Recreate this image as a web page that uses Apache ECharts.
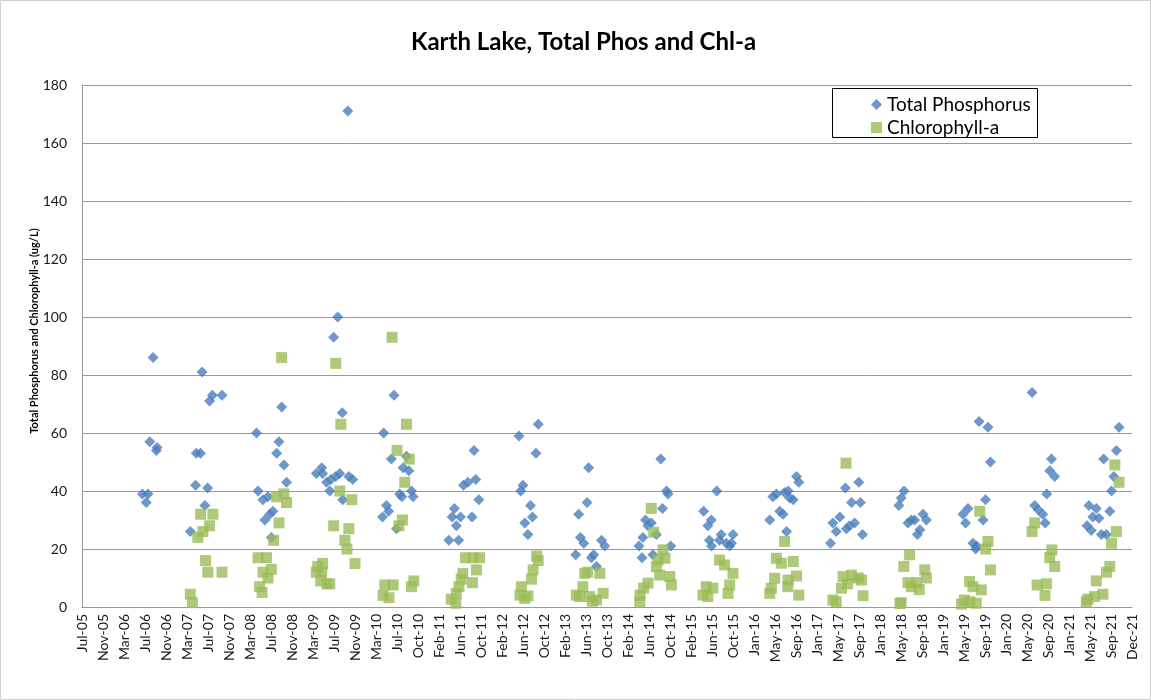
<!DOCTYPE html>
<html>
<head>
<meta charset="utf-8">
<script src="https://cdn.jsdelivr.net/npm/echarts/dist/echarts.min.js"></script>
<style>
  html, body { margin: 0; padding: 0; background: #fff; }
  #chart { width: 1151px; height: 700px; }
</style>
</head>
<body>
<div id="chart"></div>
<script>
// ---------------- data ----------------
const TITLE = 'Karth Lake, Total Phos and Chl-a';
const Y_TITLE = 'Total Phosphorus and Chlorophyll-a (ug/L)';
const SERIES_NAMES = ['Total Phosphorus', 'Chlorophyll-a'];
const MONTHS = ['Jan','Feb','Mar','Apr','May','Jun','Jul','Aug','Sep','Oct','Nov','Dec'];
const AXIS_START = '2005-07-27';   // first tick label (Jul-05)
const TICK_DAYS = 120;             // Excel major unit
const AXIS_SPAN_DAYS = 6000;       // last tick label (Dec-21)
const Y_TICKS = [0, 20, 40, 60, 80, 100, 120, 140, 160, 180];

const tpDates = [
 '2006-07-07','2006-07-29','2006-08-08','2006-08-18','2006-09-06','2006-09-25','2006-09-29',
 '2007-04-07','2007-05-07','2007-05-11','2007-06-04','2007-06-13','2007-06-29','2007-07-15','2007-07-26','2007-08-11','2007-10-05',
 '2008-04-19','2008-04-28','2008-05-26','2008-06-06','2008-06-24','2008-07-04','2008-07-13','2008-07-22','2008-08-12','2008-08-25','2008-09-10','2008-09-23','2008-10-08',
 '2009-03-27','2009-04-27','2009-05-02','2009-05-25','2009-06-12','2009-06-18','2009-07-04','2009-07-16','2009-07-27','2009-08-08','2009-08-25','2009-08-22','2009-09-23','2009-09-29','2009-10-21',
 '2010-04-09','2010-04-16','2010-05-02','2010-05-14','2010-05-30','2010-06-14','2010-06-28','2010-07-16','2010-07-29','2010-08-05','2010-08-24','2010-09-07','2010-09-22','2010-10-01',
 '2011-04-23','2011-05-12','2011-05-25','2011-06-05','2011-06-18','2011-06-29','2011-07-16','2011-08-10','2011-09-03','2011-09-14','2011-09-24','2011-10-12',
 '2012-05-28','2012-06-07','2012-06-20','2012-06-30','2012-07-18','2012-08-02','2012-08-13','2012-09-02','2012-09-15',
 '2013-04-17','2013-05-04','2013-05-14','2013-06-02','2013-06-21','2013-06-30','2013-07-16','2013-07-29','2013-08-14','2013-09-12','2013-09-30',
 '2014-04-14','2014-05-01','2014-05-06','2014-05-21','2014-06-04','2014-06-23','2014-07-02','2014-07-22','2014-08-16','2014-08-26','2014-09-18','2014-09-27','2014-10-12',
 '2015-04-18','2015-05-12','2015-05-21','2015-06-01','2015-06-02','2015-07-02','2015-07-18','2015-07-27','2015-08-26','2015-09-14','2015-09-24','2015-10-03',
 '2016-04-30','2016-05-18','2016-06-07','2016-06-26','2016-07-15','2016-07-24','2016-08-04','2016-08-13','2016-08-22','2016-09-11','2016-09-30','2016-10-13',
 '2017-04-12','2017-04-26','2017-05-15','2017-06-04','2017-07-06','2017-07-12','2017-07-30','2017-08-10','2017-08-28','2017-09-21','2017-09-30','2017-10-12',
 '2018-05-08','2018-05-21','2018-06-06','2018-06-29','2018-07-18','2018-08-06','2018-08-22','2018-09-05','2018-09-23','2018-10-12',
 '2019-05-09','2019-05-24','2019-06-07','2019-07-05','2019-07-20','2019-07-26','2019-08-09','2019-09-01','2019-09-15','2019-09-29','2019-10-13',
 '2020-06-07','2020-06-22','2020-07-12','2020-08-07','2020-08-21','2020-08-30','2020-09-16','2020-09-26','2020-10-14',
 '2021-04-17','2021-04-28','2021-05-11','2021-05-20','2021-06-09','2021-06-24','2021-07-08','2021-07-21','2021-08-06','2021-08-25','2021-09-04','2021-09-17','2021-10-02','2021-10-17'
];
const tpValues = [
 39,36,39,57,86,54,55,
 26,42,53,53,81,35,41,71,73,73,
 60,40,37,30,38,32,24,33,53,57,69,49,43,
 46,48,46,43,40,44,93,45,100,46,37,67,171,45,44,
 31,60,35,33,51,73,27,39,38,48,52,47,40,38,
 23,31,34,28,23,31,42,43,31,54,44,37,
 59,40,42,29,25,35,31,53,63,
 18,32,24,22,36,48,17,18,14,23,21,
 21,17,24,30,28,29,18,25,51,34,40,39,21,
 33,28,23,30,21,40,23,25,22,21,22,25,
 30,38,39,33,32,39.5,26,40,37.6,37,45,43,
 22,29,26,31,41,27,28,36,29,43,36,25,
 35,37.6,40,29,30,30,25,26.6,32,30,
 32,29,34,22,20,21,64,30,37,62,50,
 74,35,33.5,32,29,39,47,51,45,
 28,35,26.4,31,34,30.6,25,51,25,33,40,45,54,62
];

const chlDates = [
 '2007-04-07','2007-04-19','2007-05-20','2007-06-05','2007-06-18','2007-07-03','2007-07-16','2007-07-26','2007-08-14','2007-10-05',
 '2008-04-28','2008-05-07','2008-05-21','2008-05-26','2008-06-15','2008-06-24','2008-07-13','2008-07-26','2008-08-12','2008-08-26','2008-09-10','2008-09-23','2008-10-08',
 '2009-03-27','2009-04-04','2009-04-21','2009-04-27','2009-05-02','2009-05-25','2009-06-12','2009-07-04','2009-07-16','2009-08-08','2009-08-14','2009-09-06','2009-09-18','2009-09-29','2009-10-16','2009-11-03',
 '2010-04-12','2010-04-22','2010-05-16','2010-06-03','2010-06-09','2010-07-01','2010-07-12','2010-08-01','2010-08-14','2010-08-24','2010-09-09','2010-09-22','2010-10-05',
 '2011-05-07','2011-06-02','2011-06-05','2011-06-20','2011-07-03','2011-07-12','2011-07-27','2011-09-05','2011-09-09','2011-09-28','2011-10-16',
 '2012-06-03','2012-06-11','2012-06-30','2012-07-18','2012-08-08','2012-08-17','2012-09-06','2012-09-15',
 '2013-04-21','2013-05-10','2013-05-28','2013-06-08','2013-06-25','2013-07-06','2013-07-21','2013-08-14','2013-09-02','2013-09-21',
 '2014-04-18','2014-04-20','2014-05-10','2014-06-04','2014-06-23','2014-07-07','2014-07-22','2014-08-01','2014-08-10','2014-08-29','2014-09-09','2014-10-07','2014-10-16',
 '2015-04-14','2015-05-03','2015-05-12','2015-06-10','2015-07-18','2015-08-16','2015-09-05','2015-09-14','2015-10-03',
 '2016-04-30','2016-05-09','2016-05-28','2016-06-07','2016-07-05','2016-07-24','2016-08-11','2016-08-13','2016-09-11','2016-09-30','2016-10-13',
 '2017-04-26','2017-05-15','2017-06-14','2017-06-23','2017-07-10','2017-07-19','2017-08-10','2017-09-17','2017-10-06','2017-10-15',
 '2018-05-14','2018-05-21','2018-06-05','2018-06-29','2018-07-08','2018-07-18','2018-08-16','2018-09-01','2018-10-03','2018-10-12',
 '2019-05-01','2019-05-18','2019-06-16','2019-06-17','2019-07-05','2019-07-24','2019-08-13','2019-08-22','2019-09-16','2019-09-29','2019-10-13',
 '2020-06-07','2020-06-22','2020-07-06','2020-08-20','2020-08-28','2020-09-16','2020-09-28','2020-10-14',
 '2021-04-13','2021-04-22','2021-05-30','2021-06-09','2021-07-17','2021-08-06','2021-08-25','2021-09-04','2021-09-23','2021-10-02','2021-10-17'
];
const chlValues = [
 4.4,1.5,24,32,26,16,12,28,32,12,
 17,7,5,12,17,10,13,23,38,29,86,39,36,
 12,14,9,12,15,8,8,28,84,40,63,23,20,27,37,15,
 4,7.6,3.2,93,7.6,54,28,30,43,63,51,7,9,
 2.7,1.3,4.7,7,9.6,11.6,17,8.4,17,12.8,17,
 4.1,7,3,3.8,9.6,12.8,17.6,16,
 4.1,3.6,7,11.6,12,3.6,2,2.4,11.6,4.7,
 1.8,4.1,6.5,8.2,34,25.8,13.9,16.2,11,19.7,16.8,10.5,7.6,
 4.1,7,3.6,6.5,16.2,14.5,4.7,7.6,11.6,
 4.7,6.5,9.9,16.8,15.1,22.6,7,9.3,15.7,10.7,4.1,
 2.4,1.8,6.5,10.5,49.6,8,11,10,9.3,3.9,
 1.2,1.5,14,8.4,18,7,8.4,6,12.8,10,
 1,2.4,8.8,1.8,7,1.3,33,5.9,20,22.6,12.8,
 26,29,7.6,4,8,17,19.7,14,
 1.8,2.7,3.6,9,4.4,12,14,22,49,26,43
];

// ---------------- helpers ----------------
const DAY = 86400000;
function utc(s) { const p = s.split('-').map(Number); return Date.UTC(p[0], p[1] - 1, p[2]); }
const START = utc(AXIS_START);
function dayOf(s) { return (utc(s) - START) / DAY; }
function fmtTick(v) {
  const d = new Date(START + Math.round(v) * DAY);
  return MONTHS[d.getUTCMonth()] + '-' + String(d.getUTCFullYear() % 100).padStart(2, '0');
}
const tpData = tpDates.map((d, i) => [dayOf(d), tpValues[i]]);
const chlData = chlDates.map((d, i) => [dayOf(d), chlValues[i]]);

const FONT = 'Lato, "Open Sans", "DejaVu Sans", sans-serif';
const GRID_COLOR = '#989898';

const chart = echarts.init(document.getElementById('chart'), null, { renderer: 'canvas' });
chart.setOption({
  animation: false,
  backgroundColor: '#fff',
  title: {
    text: TITLE,
    left: 406, top: 25,
    textStyle: { fontFamily: FONT, fontSize: 24, fontWeight: 'bold', color: '#000' }
  },
  grid: { left: 82, right: 19, top: 85, bottom: 93, containLabel: false },
  xAxis: {
    type: 'value',
    min: 0, max: AXIS_SPAN_DAYS, interval: TICK_DAYS,
    splitLine: { show: false },
    axisTick: { show: false },
    axisLine: { show: true, lineStyle: { color: GRID_COLOR, width: 1 } },
    axisLabel: {
      rotate: 90, margin: 7, formatter: fmtTick,
      fontFamily: FONT, fontSize: 14, color: '#1a1a1a',
      showMinLabel: true, showMaxLabel: true
    }
  },
  yAxis: {
    type: 'value',
    min: Y_TICKS[0], max: Y_TICKS[Y_TICKS.length - 1], interval: Y_TICKS[1] - Y_TICKS[0],
    axisLine: { show: true, lineStyle: { color: GRID_COLOR, width: 1 } },
    axisTick: { show: false },
    splitLine: { show: true, lineStyle: { color: GRID_COLOR, width: 1 } },
    axisLabel: { margin: 15, fontFamily: FONT, fontSize: 14, color: '#1a1a1a' }
  },
  legend: {
    orient: 'vertical',
    left: 866, top: 90,
    itemWidth: 11, itemHeight: 11, itemGap: 4,
    textStyle: { fontFamily: FONT, fontSize: 19, color: '#000' },
    data: [
      { name: SERIES_NAMES[0], icon: 'diamond' },
      { name: SERIES_NAMES[1], icon: 'rect' }
    ]
  },
  graphic: [
    { type: 'rect', z: -10, silent: true,
      shape: { x: 0.5, y: 0.5, width: 1150, height: 699 },
      style: { fill: 'none', stroke: '#d0d0d0', lineWidth: 1 } },
    { type: 'rect', z: 1, silent: true,
      shape: { x: 832.5, y: 88.5, width: 205, height: 49 },
      style: { fill: '#fff', stroke: '#000', lineWidth: 1 } },
    { type: 'text', silent: true, x: 34, y: 331, rotation: Math.PI / 2,
      style: { text: Y_TITLE, font: 'bold 11px ' + FONT, fill: '#000',
               textAlign: 'center', textVerticalAlign: 'middle' } }
  ],
  series: [
    { name: SERIES_NAMES[0], type: 'scatter', symbol: 'diamond', symbolSize: 11,
      itemStyle: { color: '#4a7ebb' }, data: tpData },
    { name: SERIES_NAMES[1], type: 'scatter', symbol: 'rect', symbolSize: 11,
      itemStyle: { color: '#9bbb59' }, data: chlData }
  ]
});
</script>
</body>
</html>
